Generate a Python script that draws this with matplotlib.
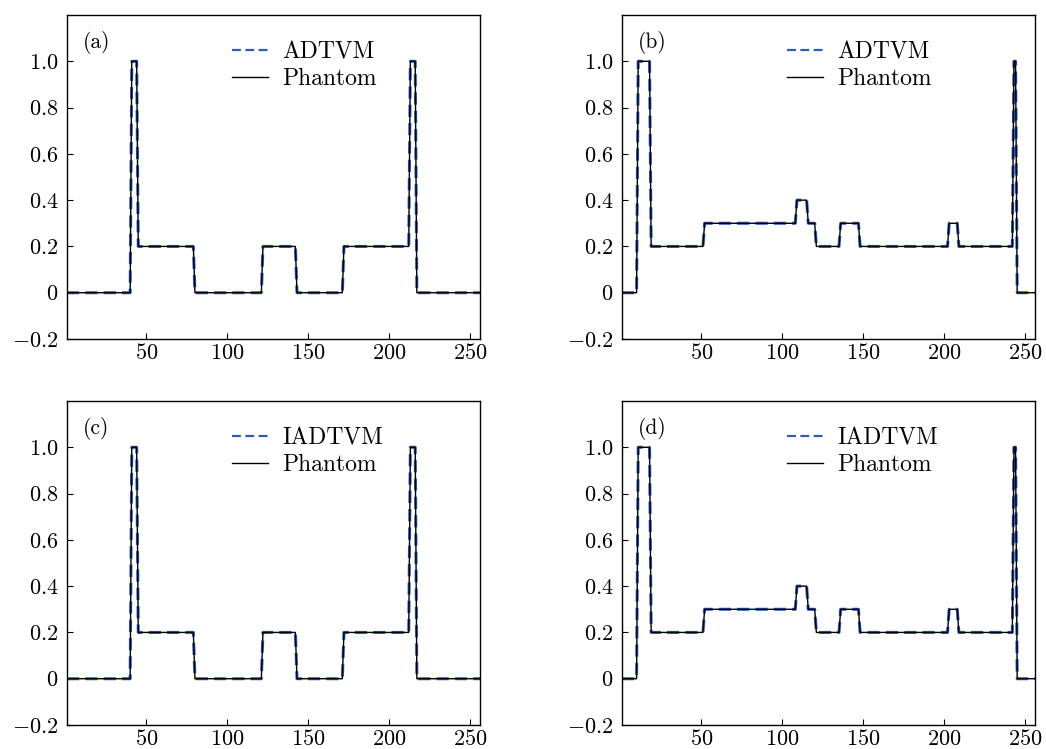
import numpy as np
import matplotlib
matplotlib.use("Agg")
import matplotlib.pyplot as plt

plt.rcParams['mathtext.fontset'] = 'cm'
plt.rcParams['font.family'] = 'cmr10'
plt.rcParams['axes.unicode_minus'] = False

# pixel index along the profile
x = np.arange(1, 257)

# phantom profiles as piecewise-constant segments: edges (start of each run) and levels
phantom_a_edges = [1, 41, 45, 80, 122, 143, 172, 213, 217, 257]
phantom_a_levels = [0, 1.0, 0.2, 0, 0.2, 0, 0.2, 1.0, 0]

phantom_b_edges = [1, 11, 19, 52, 109, 116, 121, 136, 148, 203, 209, 243, 245, 257]
phantom_b_levels = [0, 1.0, 0.2, 0.3, 0.4, 0.3, 0.2, 0.3, 0.2, 0.3, 0.2, 1.0, 0]

# reconstructions (read as the same levels as the phantom)
recon_a_levels = [0, 1.0, 0.2, 0, 0.2, 0, 0.2, 1.0, 0]
recon_b_levels = [0, 1.0, 0.2, 0.3, 0.4, 0.3, 0.2, 0.3, 0.2, 0.3, 0.2, 1.0, 0]

panel_labels = ['(a)', '(b)', '(c)', '(d)']
method_names = ['ADTVM', 'ADTVM', 'IADTVM', 'IADTVM']

yticks = [-0.2, 0, 0.2, 0.4, 0.6, 0.8, 1.0]
ytick_labels = ['$-0.2$', '$0$', '$0.2$', '$0.4$', '$0.6$', '$0.8$', '$1.0$']
xticks = [50, 100, 150, 200, 250]


def expand(edges, levels):
    lengths = np.diff(edges)
    return np.repeat(levels, lengths)


phantoms = [expand(phantom_a_edges, phantom_a_levels),
            expand(phantom_b_edges, phantom_b_levels)] * 2
recons = [expand(phantom_a_edges, recon_a_levels),
          expand(phantom_b_edges, recon_b_levels)] * 2

fig = plt.figure(figsize=(10.46, 7.49), dpi=100)
W, H = 1046.0, 749.0
boxes = [(67, 15), (622, 15), (67, 401), (622, 401)]
aw, ah = 413, 324

for i, (px, py) in enumerate(boxes):
    ax = fig.add_axes([px / W, 1 - (py + ah) / H, aw / W, ah / H])
    ax.plot(x, recons[i], '--', color='#2f5cbc', lw=2.2, dashes=(4, 2),
            label=method_names[i])
    ax.plot(x, phantoms[i], '-', color='black', lw=1.0, label='Phantom')
    ax.set_xlim(1, 256)
    ax.set_ylim(-0.2, 1.2)
    ax.set_yticks(yticks)
    ax.set_yticklabels(ytick_labels)
    ax.set_xticks(xticks)
    ax.set_xticklabels(['$%d$' % t for t in xticks])
    ax.tick_params(direction='in', length=4, width=0.8, labelsize=16, pad=6)
    ax.tick_params(axis='x', pad=3)
    for s in ax.spines.values():
        s.set_linewidth(1.0)
    ax.text(0.038, 0.915, panel_labels[i], transform=ax.transAxes,
            fontsize=15.5, va='center', ha='left')
    leg = ax.legend(loc='upper left', bbox_to_anchor=(0.40, 0.92), frameon=False,
                    fontsize=17, handlelength=1.5, handletextpad=0.62,
                    labelspacing=0.2, borderpad=0, borderaxespad=0)
    leg.get_lines()[0].set_linewidth(1.6)

fig.savefig('out.png', dpi=100)
